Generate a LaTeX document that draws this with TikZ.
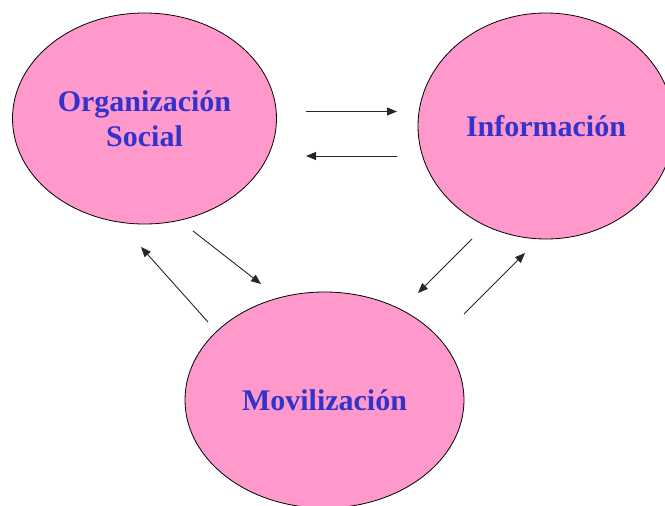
\documentclass[tikz,border=0pt]{standalone}
\usepackage{fontspec}
\setmainfont{Liberation Serif}
\usetikzlibrary{shapes.geometric,arrows.meta}
\definecolor{pinkfill}{HTML}{FF99CC}
\definecolor{textblue}{HTML}{3333CC}
\begin{document}
\begin{tikzpicture}[x=1pt,y=-1pt,
  bubble/.style={ellipse,draw=black,line width=0.8pt,fill=pinkfill,inner sep=0pt,
    text=textblue,font=\fontsize{30}{35}\selectfont\bfseries,align=center},
  link/.style={draw=black!85,line width=0.9pt,-{Triangle[length=10pt,width=8pt]}}]
\useasboundingbox (0,0) rectangle (665,506);
\node[bubble,minimum width=264pt,minimum height=211pt] (org) at (144.5,118.5) {Organización\\Social};
\node[bubble,minimum width=256pt,minimum height=226pt] (inf) at (546,126) {Información};
\node[bubble,minimum width=279pt,minimum height=216pt] (mov) at (324.5,400) {Movilización};
\coordinate (a1) at (306,111.5);
\coordinate (a2) at (397,111.5);
\coordinate (b1) at (397,156);
\coordinate (b2) at (306,156);
\coordinate (c1) at (193,231);
\coordinate (c2) at (261,284);
\coordinate (d1) at (208,322);
\coordinate (d2) at (141,247);
\coordinate (e1) at (472,239);
\coordinate (e2) at (418,293);
\coordinate (f1) at (464,314);
\coordinate (f2) at (525,253);
\draw[link] (a1) -- (a2);
\draw[link] (b1) -- (b2);
\draw[link] (c1) -- (c2);
\draw[link] (d1) -- (d2);
\draw[link] (e1) -- (e2);
\draw[link] (f1) -- (f2);
\end{tikzpicture}
\end{document}
